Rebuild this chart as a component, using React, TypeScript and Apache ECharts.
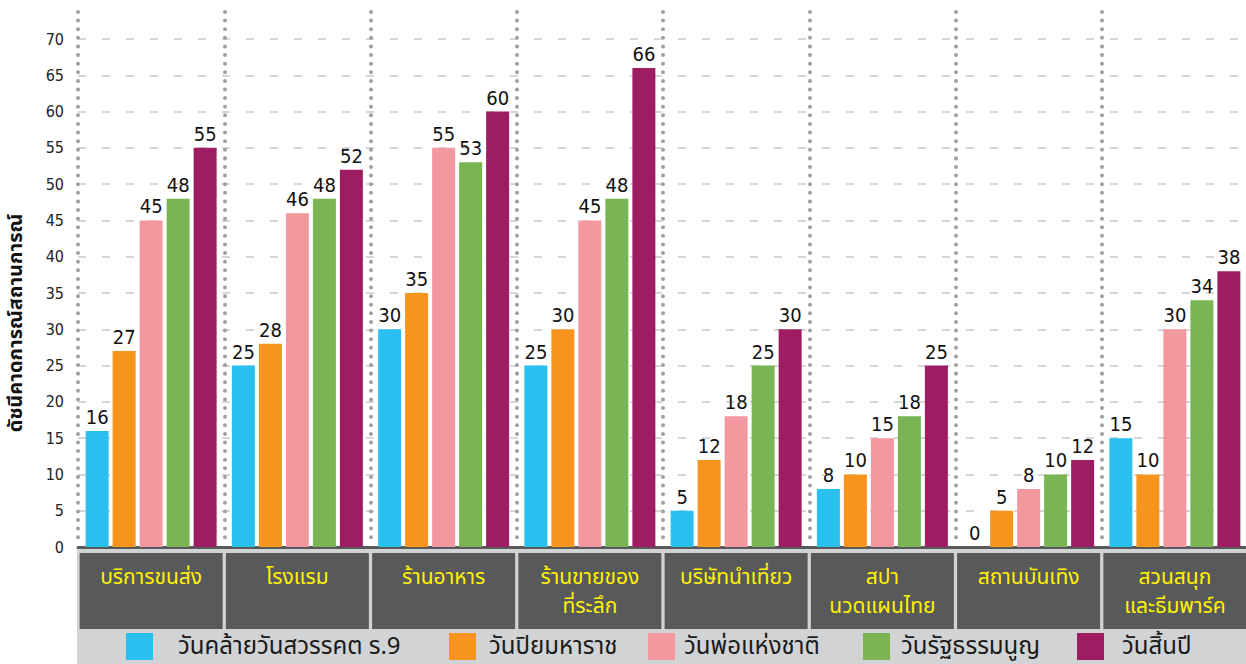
import React, { useEffect, useRef } from "react";
import * as echarts from "echarts";

const categories = [
  "บริการขนส่ง",
  "โรงแรม",
  "ร้านอาหาร",
  "ร้านขายของ\nที่ระลึก",
  "บริษัทนำเที่ยว",
  "สปา\nนวดแผนไทย",
  "สถานบันเทิง",
  "สวนสนุก\nและธีมพาร์ค",
];

const seriesNames = [
  "วันคล้ายวันสวรรคต ร.9",
  "วันปิยมหาราช",
  "วันพ่อแห่งชาติ",
  "วันรัฐธรรมนูญ",
  "วันสิ้นปี",
];

const kingMemorial = [16, 25, 30, 25, 5, 8, 0, 15];
const chulalongkornDay = [27, 28, 35, 30, 12, 10, 5, 10];
const fathersDay = [45, 46, 55, 45, 18, 15, 8, 30];
const constitutionDay = [48, 48, 53, 48, 25, 18, 10, 34];
const newYearsEve = [55, 52, 60, 66, 30, 25, 12, 38];

const seriesValues = [kingMemorial, chulalongkornDay, fathersDay, constitutionDay, newYearsEve];
const colors = ["#29bfee", "#f7941e", "#f4989f", "#79b552", "#9e1d62"];

const yAxisTitle = "ดัชนีคาดการณ์สถานการณ์";

const thaiFont = "'Noto Sans Thai', 'Noto Sans Thai Looped', 'Noto Sans', sans-serif";
const numFont = "'DejaVu Sans Condensed', 'DejaVu Sans', Verdana, sans-serif";

export default function App() {
  const ref = useRef<HTMLDivElement>(null);

  useEffect(() => {
    if (!ref.current) return;
    const chart = echarts.init(ref.current, undefined, { renderer: "svg" });

    const legendLefts = [126, 449, 648, 863, 1077];
    const legendPads = [20, 8, 4, 6, 13];

    const option: any = {
      animation: false,
      backgroundColor: "#ffffff",
      graphic: {
        elements: [
          {
            type: "rect",
            z: -10,
            silent: true,
            shape: { x: 77, y: 548, width: 1180, height: 120 },
            style: { fill: "#d1d3d4" },
          },
        ],
      },
      grid: [
        { left: 78, width: 1170, top: 39, height: 508, outerBoundsMode: "none", containLabel: false },
        { left: 78, width: 1170, top: 12, height: 533, outerBoundsMode: "none", containLabel: false },
      ],
      legend: seriesNames.map((n, i) => ({
        data: [n],
        left: legendLefts[i],
        top: 633,
        itemWidth: 27,
        itemHeight: 27,
        icon: "rect",
        padding: 0,
        textStyle: {
          fontSize: 24,
          lineHeight: 26,
          color: "#1a1a1a",
          fontFamily: thaiFont,
          padding: [0, 0, 0, legendPads[i]],
        },
      })),
      xAxis: [
        {
          type: "category",
          gridIndex: 0,
          data: categories,
          axisTick: { show: false },
          axisLine: { show: true, lineStyle: { color: "#58595b", width: 3 } },
          splitLine: { show: false },
          axisLabel: {
            interval: 0,
            margin: 6,
            color: "#fff200",
            fontSize: 21,
            lineHeight: 29,
            fontFamily: thaiFont,
            backgroundColor: "#58595b",
            width: 143,
            height: 62,
            padding: [10, 0, 4, 0],
            align: "center",
            verticalAlign: "top",
          },
        },
        {
          type: "category",
          gridIndex: 1,
          data: categories,
          axisTick: { show: false },
          axisLine: { show: false },
          axisLabel: { show: false },
          splitLine: {
            show: true,
            lineStyle: { color: "#a0a0a3", width: 4, type: [0.01, 8.6], cap: "round" },
          },
        },
      ],
      yAxis: [
        {
          type: "value",
          gridIndex: 0,
          min: 0,
          max: 70,
          interval: 5,
          name: yAxisTitle,
          nameLocation: "middle",
          nameGap: 50,
          nameTextStyle: {
            fontSize: 20,
            lineHeight: 24,
            color: "#111",
            fontFamily: thaiFont,
            fontWeight: "bold",
            padding: [0, 60, 0, 0],
          },
          axisLine: { show: false },
          axisTick: { show: false },
          axisLabel: {
            margin: 14,
            fontSize: 16,
            color: "#222",
            fontFamily: numFont,
            padding: [0, 0, 8, 0],
          },
          splitLine: {
            show: true,
            lineStyle: { color: "#d6d6d6", width: 2, type: [8, 16] },
          },
        },
        {
          type: "value",
          gridIndex: 1,
          min: 0,
          max: 1,
          show: false,
          splitLine: { show: false },
        },
      ],
      series: seriesNames.map((n, i) => ({
        name: n,
        type: "bar",
        xAxisIndex: 0,
        yAxisIndex: 0,
        data: seriesValues[i],
        barWidth: 23,
        barGap: "17.4%",
        itemStyle: { color: colors[i] },
        label: {
          show: true,
          position: "top",
          distance: 4,
          fontSize: 20,
          color: "#111",
          fontFamily: numFont,
        },
      })),
    };

    chart.setOption(option);
    return () => chart.dispose();
  }, []);

  return (
    <div
      ref={ref}
      style={{ position: "fixed", left: 0, top: 0, width: 1246, height: 664 }}
    />
  );
}
